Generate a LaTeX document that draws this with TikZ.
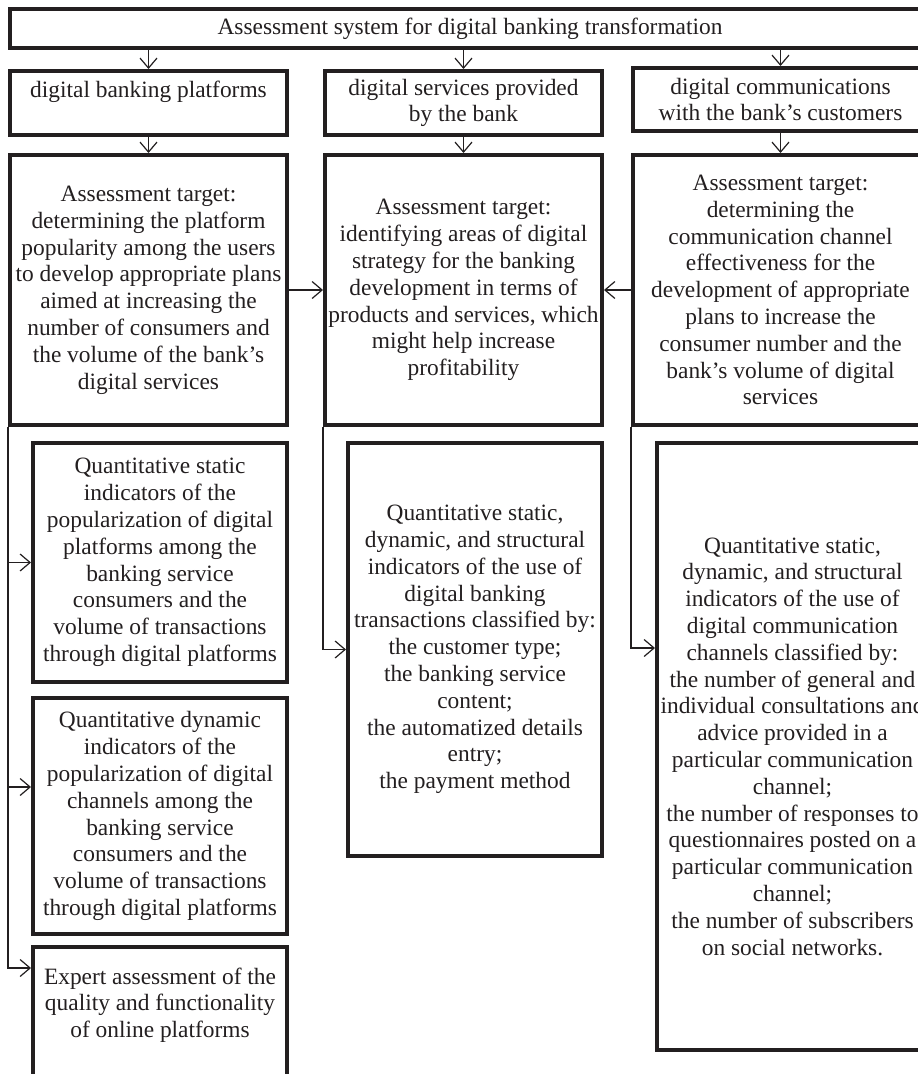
\documentclass[tikz,border=0pt]{standalone}
\usepackage{fontspec}
\setmainfont{Liberation Serif}
\usepackage{tikz}
\usetikzlibrary{arrows.meta, positioning}
\definecolor{INK}{HTML}{231F20}
\tikzset{
  BOX/.style={% Style for the framed blocks
      rectangle,
      line width=4pt,
      inner sep=0pt,
      align=center,
      text=INK,
      draw=INK,
      font=\fontsize{23.4}{26.8}\selectfont,
  },
  LINK/.style={% Style for the thin connectors
      line width=1.2pt,
      draw=INK,
      -{Straight Barb[length=10pt,width=17pt]},
  }
}
% corners (x1,y1)(x2,y2) in pixels, node name, text
\def\panel(#1,#2)(#3,#4)#5#6{%
  \node[BOX, minimum width={#3-#1}, minimum height={#4-#2}] (#5)
    at ({(#1+#3)/2},{(#2+#4)/2}) {#6};
}
\begin{document}
\begin{tikzpicture}[x=1pt, y=-1pt]
  \useasboundingbox (0,0) rectangle (918,1074);
  \clip (0,0) rectangle (918,1074);
  \fill[white] (0,0) rectangle (918,1074);
  % head
  \panel(10,9)(930,48){top}{Assessment system for digital banking transformation}
  % directions
  \panel(10,71)(287,135){plat}{digital banking platforms\\~}
  \panel(325,71)(602,135){serv}{digital services provided\\by the bank}
  \panel(633,68)(928,131){comm}{digital communications\\with the bank’s customers}
  % targets
  \panel(10,155)(287,425){platT}{Assessment target:\\determining the platform\\popularity among the users\\to develop appropriate plans\\aimed at increasing the\\number of consumers and\\the volume of the bank’s\\digital services}
  \panel(325,155)(602,425){servT}{Assessment target:\\identifying areas of digital\\strategy for the banking\\development in terms of\\products and services, which\\might help increase\\profitability}
  \panel(633,155)(928,425){commT}{Assessment target:\\determining the\\communication channel\\effectiveness for the\\development of appropriate\\plans to increase the\\consumer number and the\\bank’s volume of digital\\services}
  % indicators
  \panel(33,443)(287,682){platA}{Quantitative static\\indicators of the\\popularization of digital\\platforms among the\\banking service\\consumers and the\\volume of transactions\\through digital platforms}
  \panel(33,698)(287,934){platB}{Quantitative dynamic\\indicators of the\\popularization of digital\\channels among the\\banking service\\consumers and the\\volume of transactions\\through digital platforms}
  \panel(33,947)(287,1085){platC}{Expert assessment of the\\quality and functionality\\of online platforms\\~}
  \panel(348,443)(602,856){servI}{Quantitative static,\\dynamic, and structural\\indicators of the use of\\digital banking\\transactions classified by:\\the customer type;\\the banking service\\content;\\the automatized details\\entry;\\the payment method}
  \panel(657,443)(928,1050){commI}{Quantitative static,\\dynamic, and structural\\indicators of the use of\\digital communication\\channels classified by:\\the number of general and\\individual consultations and\\advice provided in a\\particular communication\\channel;\\the number of responses to\\questionnaires posted on a\\particular communication\\channel;\\the number of subscribers\\on social networks.}
  % connectors
  \draw[LINK] (top.south -| plat.north) -- (plat);
  \draw[LINK] (top.south -| serv.north) -- (serv);
  \draw[LINK] (top.south -| comm.north) -- (comm);
  \draw[LINK] (plat) -- (platT);
  \draw[LINK] (serv) -- (servT);
  \draw[LINK] (comm) -- (commT);
  \draw[LINK] (platT) -- (servT);
  \draw[LINK] (commT) -- (servT);
  \draw[LINK] (platT.south west) |- (platA);
  \draw[LINK] (platT.south west) |- ([yshift=-91pt]platB.north west);
  \draw[LINK] (platT.south west) |- ([yshift=-23pt]platC.north west);
  \draw[LINK] (servT.south west) |- (servI);
  \draw[LINK] (commT.south west) |- ([yshift=-207pt]commI.north west);
\end{tikzpicture}
\end{document}
